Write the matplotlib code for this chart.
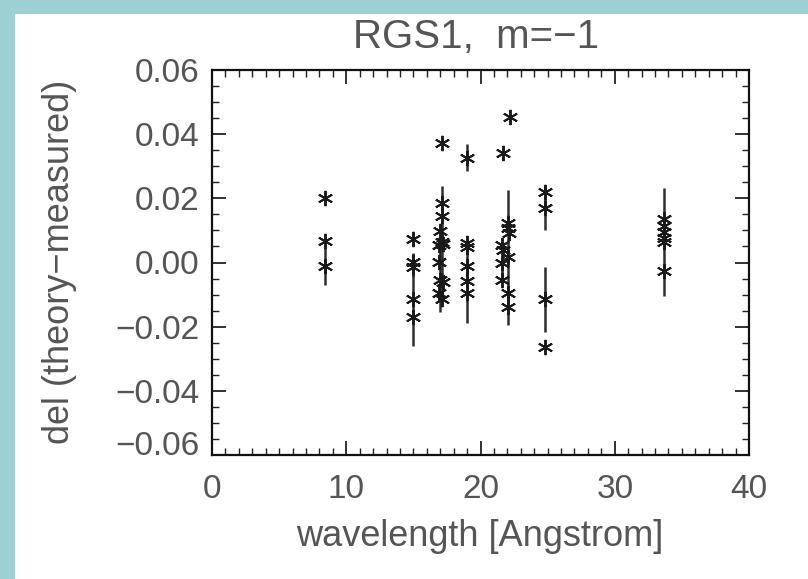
import matplotlib
matplotlib.use("Agg")
import matplotlib.pyplot as plt
from matplotlib.patches import Rectangle
from matplotlib.transforms import ScaledTranslation
import numpy as np

# ---- data ----
wavelength = [8.4, 8.4, 8.4,
              15.0, 15.0, 15.0, 15.0, 15.0,
              17.1, 17.1, 17.1, 17.0, 17.1, 16.9, 17.2, 16.9, 17.0, 17.2, 16.9, 17.1,
              19.0, 19.0, 19.0, 19.0, 19.0, 19.0,
              21.65, 21.6, 21.7, 21.6, 21.6, 22.2, 22.05, 22.05, 22.1, 22.05, 22.05, 22.05,
              24.8, 24.8, 24.8, 24.8,
              33.7, 33.7, 33.7, 33.7, 33.7, 33.7]
delta = [0.0202, 0.0066, -0.0011,
         0.0072, 0.0003, -0.0015, -0.0115, -0.0171,
         0.0373, 0.0187, 0.0144, 0.0097, 0.0065, 0.0056, 0.0058, 0.0003, -0.0053, -0.0062, -0.0094, -0.0115,
         0.0326, 0.0062, 0.0047, -0.0012, -0.0059, -0.0094,
         0.0342, 0.0056, 0.0040, 0.0000, -0.0053, 0.0454, 0.0124, 0.0109, 0.0093, 0.0016, -0.0094, -0.0140,
         0.0220, 0.0170, -0.0115, -0.0264,
         0.0135, 0.0115, 0.0095, 0.0075, 0.0065, -0.0028]
delta_err = [0.0, 0.0, 0.0058,
             0.002, 0.0, 0.003, 0.0145, 0.0,
             0.0, 0.0, 0.0, 0.0, 0.0175, 0.0, 0.0, 0.0, 0.010, 0.0, 0.0, 0.0,
             0.0042, 0.0, 0.0, 0.0, 0.013, 0.0,
             0.0, 0.0, 0.0, 0.006, 0.0, 0.0, 0.0, 0.0, 0.0, 0.021, 0.0, 0.0,
             0.0, 0.0068, 0.0102, 0.0,
             0.0, 0.0, 0.0, 0.0, 0.0168, 0.0]

x_ticks = [0, 10, 20, 30, 40]
x_ticklabels = ["0", "10", "20", "30", "40"]
y_ticks = [-0.06, -0.04, -0.02, 0.0, 0.02, 0.04, 0.06]
y_ticklabels = ["\u22120.06", "\u22120.04", "\u22120.02", "0.00", "0.02", "0.04", "0.06"]

title = "RGS1,  m=\u22121"
xlabel = "wavelength [Angstrom]"
ylabel = "del (theory\u2212measured)"

W, H, DPI = 808, 579, 100
plt.rcParams['font.family'] = ['Liberation Sans', 'DejaVu Sans']
fig = plt.figure(figsize=(W / DPI, H / DPI), dpi=DPI)
fig.patch.set_facecolor("#9dd0d2")
fig.patches.append(Rectangle((15 / W, 0), 1, (H - 14) / H, transform=fig.transFigure,
                             facecolor="white", edgecolor="none", zorder=-5))

ax = fig.add_axes([212 / W, (H - 455) / H, (749 - 212) / W, (455 - 70) / H])
ax.set_zorder(2)
ax.set_facecolor("white")

txt_color = "#555555"
fs_tick = 24
fs_lab = 26
fs_title = 29

ax.errorbar(wavelength, delta, yerr=delta_err, fmt="none", ecolor="#2e2e2e",
            elinewidth=1.8, capsize=0, zorder=2)
ax.plot(wavelength, delta, linestyle="none", marker=(6, 2, 0), markersize=11,
        markeredgewidth=1.4, color="#1a1a1a", zorder=3)

ax.set_xlim(0, 40)
ax.set_ylim(-0.06, 0.06)
ax.set_xticks(x_ticks)
ax.set_xticklabels(x_ticklabels)
ax.set_yticks(y_ticks)
ax.set_yticklabels(y_ticklabels)
ax.set_xticks(np.arange(0, 41, 1), minor=True)
ax.set_yticks(np.arange(-0.06, 0.0601, 0.005), minor=True)

ax.tick_params(axis="both", which="both", direction="in", top=True, right=True,
               colors="#222222", labelcolor=txt_color, labelsize=fs_tick)
ax.tick_params(which="major", length=10, width=1.3)
ax.tick_params(which="minor", length=5, width=1.0)
ax.tick_params(axis="x", pad=14)
ax.tick_params(axis="y", pad=9)

for s in ax.spines.values():
    s.set_linewidth(1.6)
    s.set_color("#111111")

# bottom y tick label sits slightly above its tick in the reference
lab = ax.get_yticklabels()[0]
lab.set_transform(lab.get_transform() + ScaledTranslation(0, 12 / DPI, fig.dpi_scale_trans))

fig.text(476 / W, 1 - 37 / H, title, ha="center", va="center", fontsize=fs_title, color=txt_color)
fig.text(480 / W, 1 - 537 / H, xlabel, ha="center", va="center", fontsize=fs_lab, color=txt_color)
fig.text(60 / W, 1 - 262 / H, ylabel, ha="center", va="center", rotation=90, fontsize=fs_lab,
         color=txt_color)

fig.savefig("out.png", dpi=DPI)
